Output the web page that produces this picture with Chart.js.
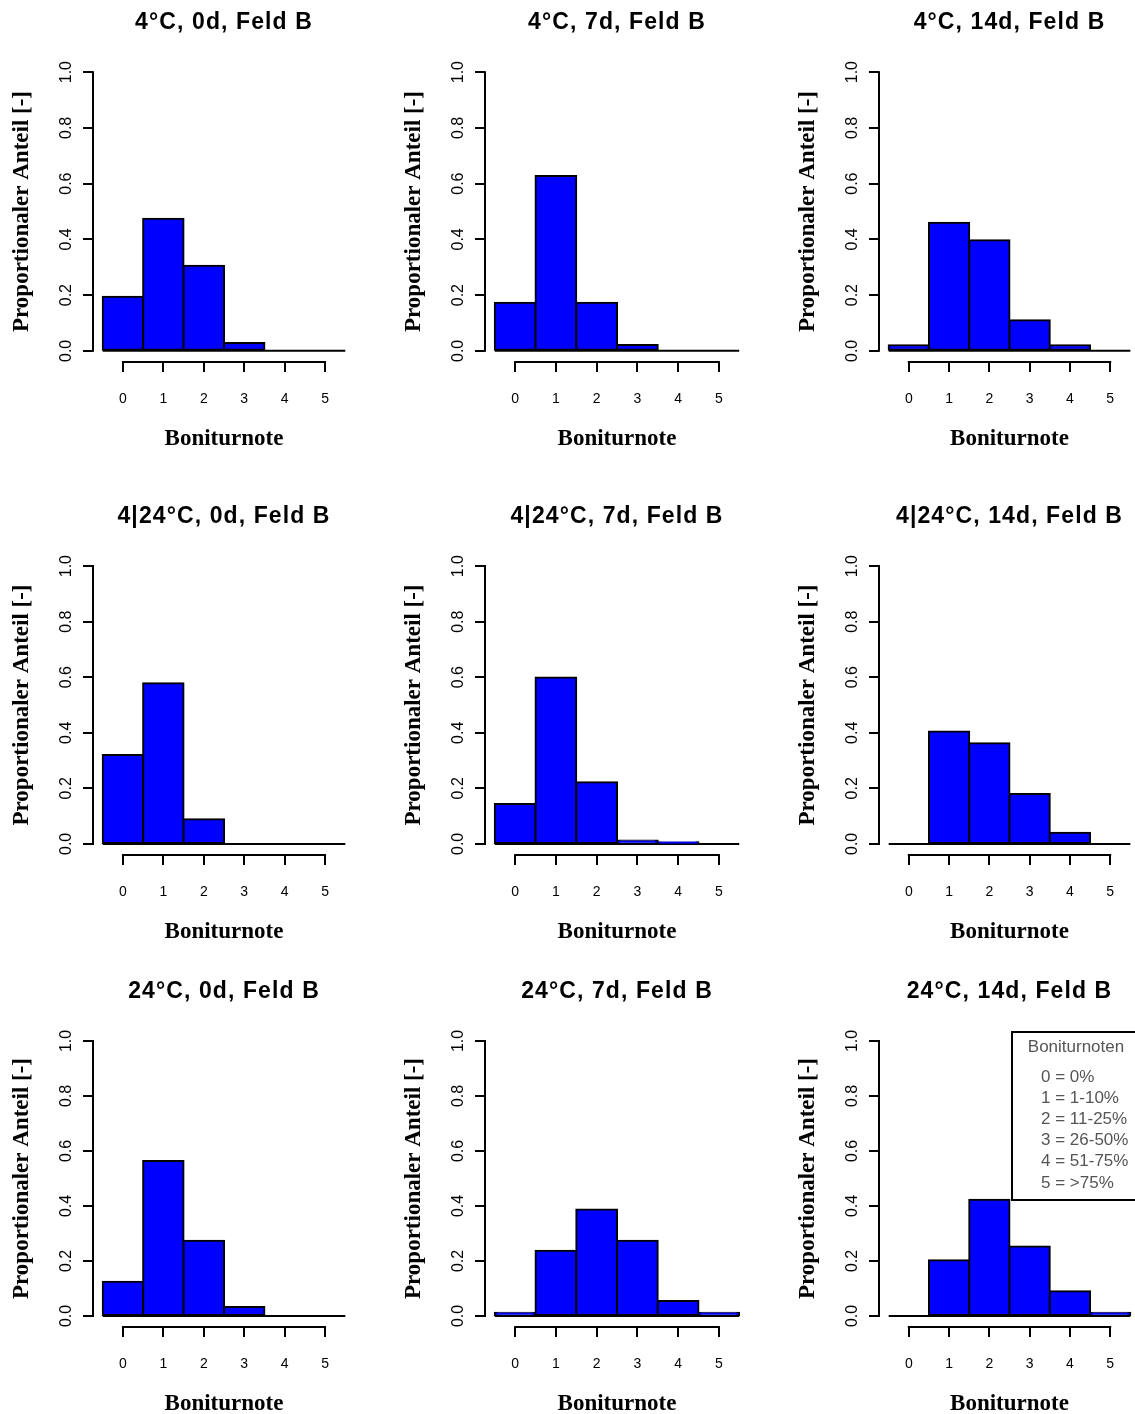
<!DOCTYPE html>
<html>
<head>
<meta charset="utf-8">
<script src="https://cdn.jsdelivr.net/npm/chart.js@4.4.1/dist/chart.umd.min.js"></script>
<style>
    html, body { margin: 0; padding: 0; }
    body { position: relative; width: 1135px; height: 1414px; overflow: hidden; background: #ffffff; }
    canvas { position: absolute; }
</style>
</head>
<body>
<script>
// Boniturnoten on the x axis and the y axis ticks
const noten = [0, 1, 2, 3, 4, 5];
const yTicks = [0, 0.2, 0.4, 0.6, 0.8, 1.0];

const xLabel = "Boniturnote";
const yLabel = "Proportionaler Anteil [-]";

// One title per panel, row by row
const titles = [
    "4°C, 0d, Feld B", "4°C, 7d, Feld B", "4°C, 14d, Feld B",
    "4|24°C, 0d, Feld B", "4|24°C, 7d, Feld B", "4|24°C, 14d, Feld B",
    "24°C, 0d, Feld B", "24°C, 7d, Feld B", "24°C, 14d, Feld B"
];

// Proportional share per Boniturnote
const anteil_4_0d = [0.194, 0.474, 0.305, 0.028, 0, 0];
const anteil_4_7d = [0.173, 0.627, 0.173, 0.021, 0, 0];
const anteil_4_14d = [0.020, 0.460, 0.397, 0.110, 0.020, 0];
const anteil_424_0d = [0.320, 0.578, 0.089, 0, 0, 0];
const anteil_424_7d = [0.144, 0.599, 0.222, 0.012, 0.006, 0];
const anteil_424_14d = [0, 0.405, 0.362, 0.180, 0.040, 0];
const anteil_24_0d = [0.125, 0.564, 0.274, 0.033, 0, 0];
const anteil_24_7d = [0.012, 0.237, 0.387, 0.274, 0.055, 0.012];
const anteil_24_14d = [0, 0.203, 0.423, 0.253, 0.090, 0.012];

const panels = [
    anteil_4_0d, anteil_4_7d, anteil_4_14d,
    anteil_424_0d, anteil_424_7d, anteil_424_14d,
    anteil_24_0d, anteil_24_7d, anteil_24_14d
];

// Legend shown in the last panel
const legendTitle = "Boniturnoten";
const legendEntries = ["0 = 0%", "1 = 1-10%", "2 = 11-25%", "3 = 26-50%", "4 = 51-75%", "5 = >75%"];

// Plot regions on the page (left/right per column, top/bottom per row)
const colL = [93, 485, 879];
const colR = [355, 749, 1140];
const rowT = [61, 555, 1030];
const rowB = [362, 855, 1327];
const AXIS_W = 95;   // room left of the plot region
const AXIS_H = 95;   // room below the plot region
const TOP_ROOM = 61; // room above for the title

const sansFont = '"Liberation Sans", Arial, Helvetica, sans-serif';
const serifFont = '"Liberation Serif", "Times New Roman", serif';

// R style axes: axis lines only from first to last tick, title and legend
const rStyle = {
    id: 'rStyle',
    afterDatasetsDraw(chart, args, opts) {
        const ctx = chart.ctx;
        const a = chart.chartArea;
        const x = chart.scales.x;
        const y = chart.scales.y;

        ctx.save();
        ctx.strokeStyle = '#000000';
        ctx.lineWidth = 2;
        ctx.beginPath();
        ctx.moveTo(a.left, y.getPixelForValue(yTicks[0]) + 1);
        ctx.lineTo(a.left, y.getPixelForValue(yTicks[yTicks.length - 1]) - 1);
        ctx.moveTo(x.getPixelForValue(noten[0]) - 1, a.bottom);
        ctx.lineTo(x.getPixelForValue(noten[noten.length - 1]) + 1, a.bottom);
        ctx.stroke();

        // panel title
        ctx.font = 'bold 23px ' + sansFont;
        ctx.letterSpacing = '1.1px';
        ctx.fillStyle = '#000000';
        ctx.textAlign = 'center';
        ctx.textBaseline = 'middle';
        ctx.fillText(opts.title, (a.left + a.right) / 2, a.top - 38);
        ctx.letterSpacing = '0px';

        if (opts.legend) {
            const bw = 128, bh = 168;
            const bx = a.right - bw, by = a.top + 2;
            ctx.fillStyle = '#ffffff';
            ctx.fillRect(bx, by, bw, bh);
            ctx.strokeRect(bx, by, bw, bh);
            ctx.font = '17px ' + sansFont;
            ctx.fillStyle = '#555555';
            ctx.textAlign = 'center';
            ctx.fillText(legendTitle, bx + bw / 2, by + 15.5);
            ctx.textAlign = 'left';
            legendEntries.forEach((t, k) => {
                ctx.fillText(t, bx + 29, by + 45 + k * 21.2);
            });
        }
        ctx.restore();
    }
};

function makePanel(i, values) {
    const r = Math.floor(i / 3);
    const c = i % 3;
    const W = colR[c] - colL[c] + AXIS_W + 12;
    const H = rowB[r] - rowT[r] + TOP_ROOM + AXIS_H;

    const cv = document.createElement('canvas');
    cv.width = W;
    cv.height = H;
    cv.style.left = (colL[c] - AXIS_W) + 'px';
    cv.style.top = (rowT[r] - TOP_ROOM) + 'px';
    cv.style.width = W + 'px';
    cv.style.height = H + 'px';
    document.body.appendChild(cv);

    new Chart(cv, {
        type: 'bar',
        data: {
            datasets: [{
                data: noten.map((n, k) => ({x: n, y: values[k]})),
                backgroundColor: '#0000ff',
                borderColor: '#000000',
                borderWidth: 2,
                borderSkipped: false,
                inflateAmount: 1,
                barPercentage: 1,
                categoryPercentage: 1
            }, {
                // bottom edge of every bin, also where the share is zero
                type: 'line',
                data: [{x: noten[0] - 0.5, y: 0}, {x: noten[noten.length - 1] + 0.5, y: 0}],
                borderColor: '#000000',
                borderWidth: 2,
                pointRadius: 0,
                fill: false
            }]
        },
        options: {
            responsive: false,
            animation: false,
            events: [],
            layout: { padding: { left: 0, top: TOP_ROOM, right: 12, bottom: 0 } },
            plugins: {
                legend: { display: false },
                tooltip: { enabled: false },
                rStyle: { title: titles[i], legend: i === 8 }
            },
            scales: {
                x: {
                    type: 'linear',
                    min: -0.74,
                    max: 5.74,
                    offset: false,
                    afterBuildTicks: s => { s.ticks = noten.map(v => ({value: v})); },
                    afterFit: s => { s.height = AXIS_H; },
                    border: { display: false },
                    grid: { offset: false, drawOnChartArea: false, tickLength: 10, color: '#000000', lineWidth: 2 },
                    ticks: {
                        autoSkip: false,
                        maxRotation: 0,
                        padding: 18.6,
                        color: '#000000',
                        font: { family: sansFont, size: 14 }
                    },
                    title: {
                        display: true,
                        text: xLabel,
                        color: '#000000',
                        font: { family: serifFont, size: 23, weight: 'bold' },
                        padding: { top: 0, bottom: 3.7 }
                    }
                },
                y: {
                    type: 'linear',
                    min: -0.04,
                    max: 1.04,
                    afterBuildTicks: s => { s.ticks = yTicks.map(v => ({value: v})); },
                    afterFit: s => { s.width = AXIS_W; },
                    border: { display: false },
                    grid: { drawOnChartArea: false, tickLength: 10, color: '#000000', lineWidth: 2 },
                    ticks: {
                        autoSkip: false,
                        minRotation: 90,
                        maxRotation: 90,
                        crossAlign: 'center',
                        padding: 5.4,
                        color: '#000000',
                        font: { family: sansFont, size: 16 },
                        callback: v => Number(v).toFixed(1)
                    },
                    title: {
                        display: true,
                        text: yLabel,
                        color: '#000000',
                        font: { family: serifFont, size: 23, weight: 'bold' },
                        padding: { top: 9.9, bottom: 0 }
                    }
                }
            }
        },
        plugins: [rStyle]
    });
}

panels.forEach((values, i) => makePanel(i, values));
</script>
</body>
</html>
